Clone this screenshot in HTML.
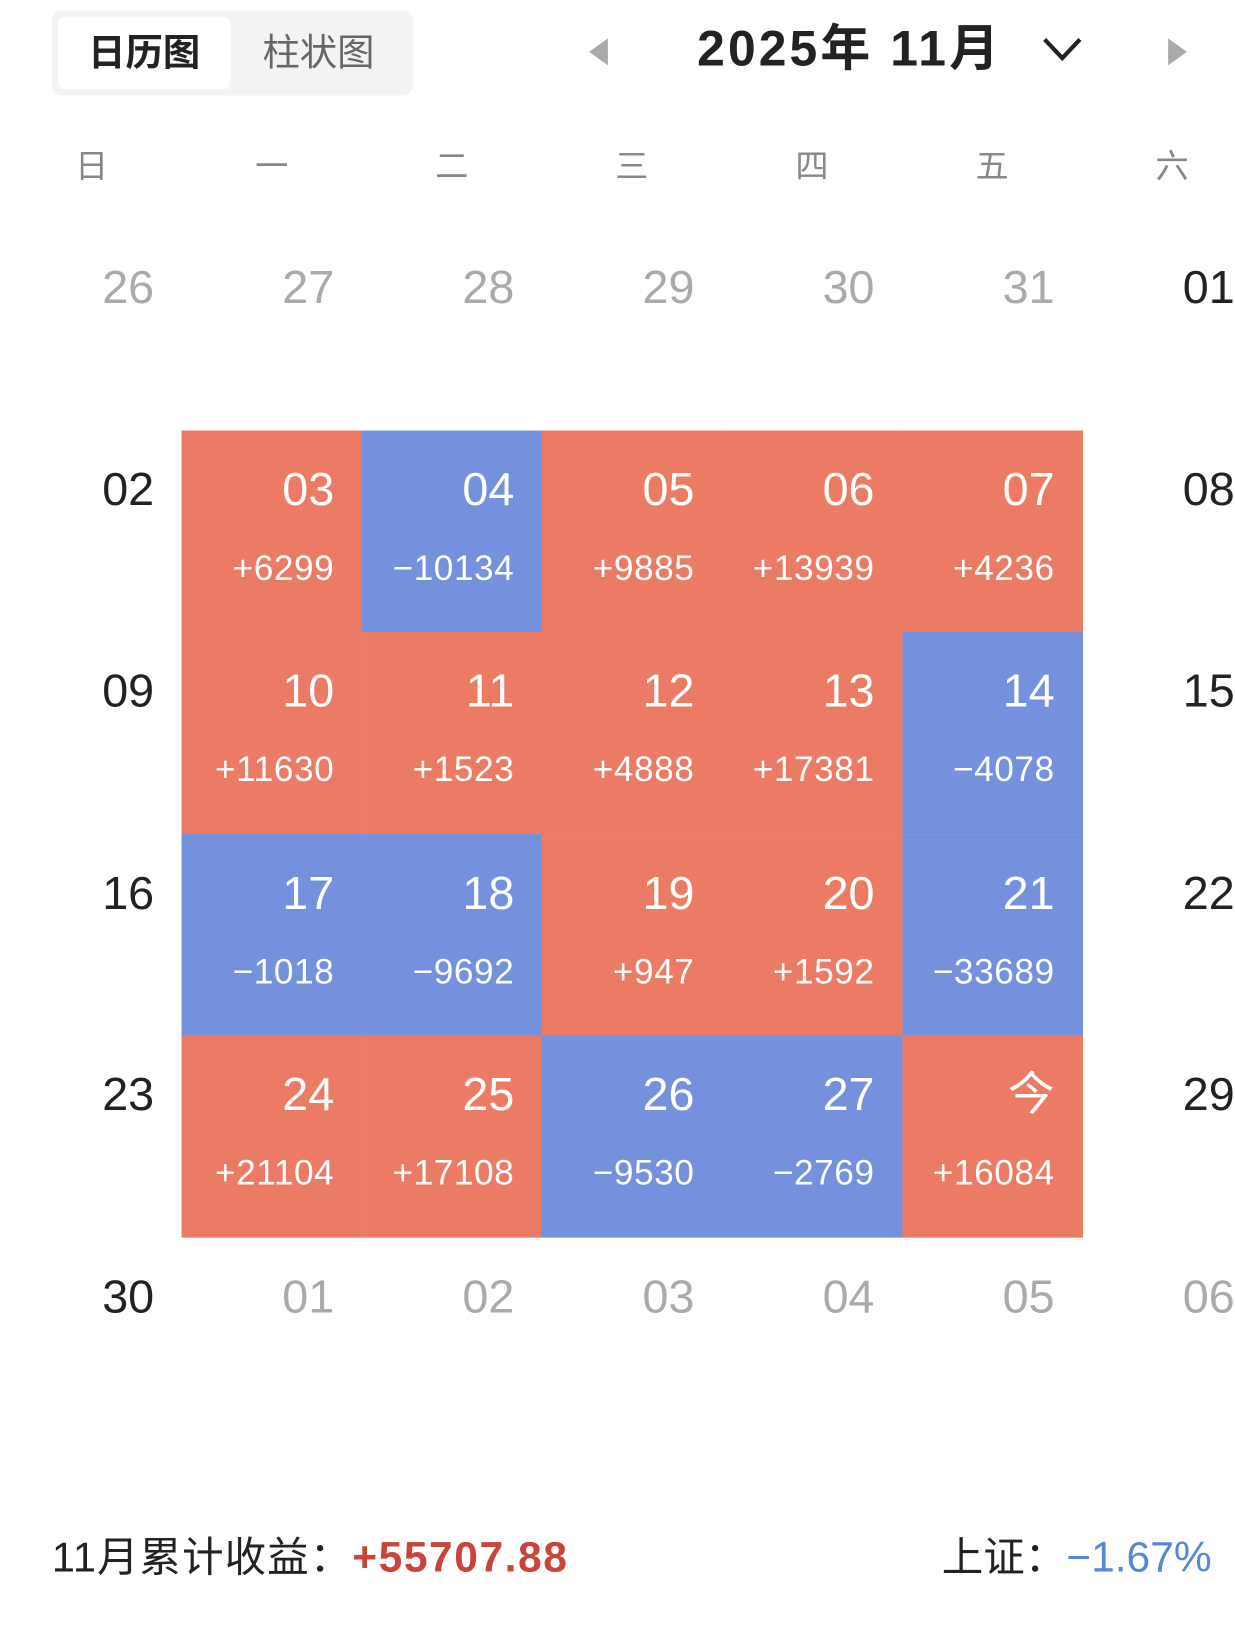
<!DOCTYPE html>
<html><head><meta charset="utf-8">
<style>
html,body{margin:0;padding:0;background:#fff;width:1235px;height:1628px;overflow:hidden}
#wrap{position:absolute;left:0;top:0;width:1191px;height:1570px;transform:scale(1.0374);transform-origin:0 0;font-family:"Liberation Sans","Noto Sans CJK SC",sans-serif}
.abs{position:absolute;white-space:nowrap}
.cell{position:absolute}
.day{position:absolute;right:27px;font-size:45px;line-height:1}
.val{position:absolute;right:27px;font-size:34px;line-height:1;color:#fff;letter-spacing:0.5px}
</style></head><body>
<div id="wrap">
  <div class="abs" style="left:50px;top:10px;width:348px;height:82px;background:#f3f3f3;border-radius:9px"></div>
  <div class="abs" style="left:56px;top:16px;width:166px;height:70px;background:#fff;border-radius:7px;font-size:36px;font-weight:bold;color:#222;line-height:70px;text-align:center">日历图</div>
  <div class="abs" style="left:222px;top:16px;width:170px;height:70px;font-size:36px;color:#666;line-height:70px;text-align:center">柱状图</div>
  <svg class="abs" style="left:562px;top:34px" width="30" height="32"><polygon points="24,3 24,29 6,16" fill="#aaa"/></svg>
  <div class="abs" style="left:672px;top:18px;font-size:48px;font-weight:bold;color:#222;line-height:60px;letter-spacing:3px">2025年 11月</div>
  <svg class="abs" style="left:1002px;top:30px" width="46" height="34"><polyline points="5,8 22,26 39,8" fill="none" stroke="#222" stroke-width="4"/></svg>
  <svg class="abs" style="left:1120px;top:34px" width="30" height="32"><polygon points="6,3 6,29 24,16" fill="#aaa"/></svg>
  <div class="abs" style="left:50px;top:1477px;font-size:40px;line-height:48px;color:#222;letter-spacing:1px">11月累计收益：<span style="color:#c9443a;font-weight:bold;font-size:41px;letter-spacing:1.5px">+55707.88</span></div>
  <div class="abs" style="right:23px;top:1477px;font-size:40px;line-height:48px;color:#222">上证：<span style="color:#5a86d8;font-size:41px">−1.67%</span></div>
</div>
<script>
const weekdays = ["日","一","二","三","四","五","六"];
const dayLabels = ["26","27","28","29","30","31","01","02","03","04","05","06","07","08","09","10","11","12","13","14","15","16","17","18","19","20","21","22","23","24","25","26","27","今","29","30","01","02","03","04","05","06"];
const dayValues = [null,null,null,null,null,null,null,null,6299,-10134,9885,13939,4236,null,null,11630,1523,4888,17381,-4078,null,null,-1018,-9692,947,1592,-33689,null,null,21104,17108,-9530,-2769,16084,null,null,null,null,null,null,null,null];
const inMonth = [0,0,0,0,0,0,1,1,1,1,1,1,1,1,1,1,1,1,1,1,1,1,1,1,1,1,1,1,1,1,1,1,1,1,1,1,0,0,0,0,0,0];
const colW = 173.6, gridX = 1.5, rowH = 194.5, gridY = 220;
const colX = c => gridX + c * colW;
const rowY = r => gridY + r * rowH;
const grid = document.getElementById('wrap');
weekdays.forEach((w, c) => {
  const d = document.createElement('div');
  d.className = 'abs';
  
  
  d.style.cssText = `left:${colX(c)}px;width:${colW}px;top:140px;text-align:center;font-size:32px;color:#888;line-height:40px`;
  d.textContent = w;
  grid.appendChild(d);
});
dayLabels.forEach((lab, i) => {
  const r = Math.floor(i / 7), c = i % 7, v = dayValues[i];
  const cell = document.createElement('div');
  cell.className = 'cell';
  
  
  let bg = 'transparent';
  if (v !== null) bg = v >= 0 ? '#ec7b66' : '#7590dd';
  cell.style.cssText = `left:${colX(c)}px;top:${rowY(r)}px;width:${colW + 0.5}px;height:${rowH + 0.5}px;background:${bg}`;
  const d = document.createElement('div');
  d.className = 'day';
  
  
  d.style.top = '34px';
  d.style.color = v !== null ? '#fff' : (inMonth[i] ? '#222' : '#aaa');
  d.textContent = lab;
  cell.appendChild(d);
  if (v !== null) {
    const t = document.createElement('div');
    t.className = 'val';
    
    
    t.style.top = '116px';
    t.textContent = (v >= 0 ? '+' : '−') + Math.abs(v);
    cell.appendChild(t);
  }
  grid.appendChild(cell);
});
</script>
</body></html>
